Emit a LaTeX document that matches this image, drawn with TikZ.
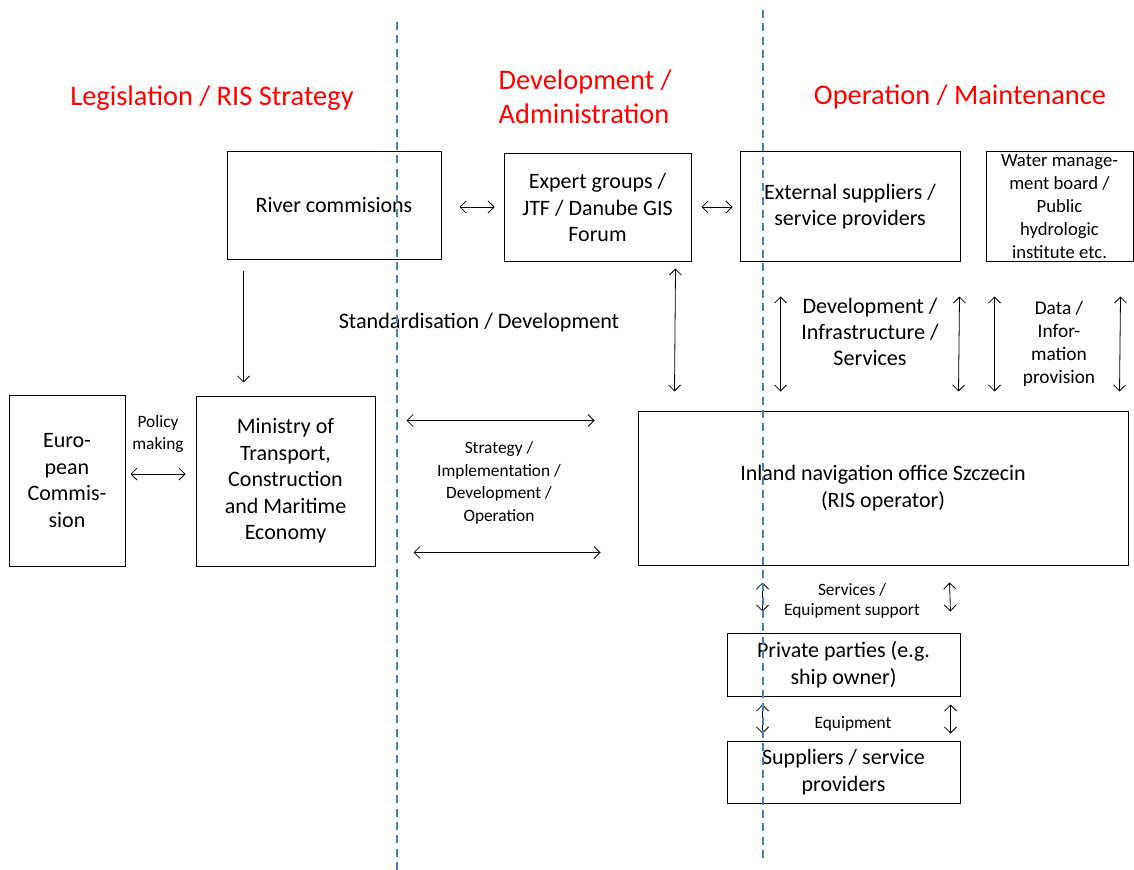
\documentclass[tikz,border=0pt]{standalone}
\usepackage{fontspec}
\setmainfont{Carlito}
\usetikzlibrary{arrows.meta,calc}
\definecolor{titlered}{RGB}{255,0,0}
\definecolor{laneblue}{RGB}{74,126,187}
\tikzset{
  box/.style 2 args={draw, line width=0.75pt, align=center, inner sep=1pt,
    minimum width=#1*0.75pt, minimum height=#2*0.75pt,
    font=\fontsize{16.5}{19.9}\selectfont},
  link/.style={{Straight Barb[length=4.5pt,width=9pt]}-{Straight Barb[length=4.5pt,width=9pt]}, line width=0.6pt},
  onelink/.style={-{Straight Barb[length=4.5pt,width=9pt]}, line width=0.6pt},
  title/.style={text=titlered, align=center, font=\fontsize{21.3}{25.5}\selectfont},
  biglabel/.style={align=center, font=\fontsize{16.6}{19.5}\selectfont},
  midlabel/.style={align=center, font=\fontsize{13}{17}\selectfont},
  smalllabel/.style={align=center, font=\fontsize{13}{15}\selectfont},
  lane/.style={laneblue, line width=1.5pt, dash pattern=on 6pt off 4pt}
}
\begin{document}
\begin{tikzpicture}[x=0.75pt, y=-0.75pt]
  \useasboundingbox (0,0) rectangle (1134,870);
  % column titles
  \node[title] (titleleg) at (212,98) {Legislation / RIS Strategy};
  \node[title, align=left, anchor=west] (titledev) at (494,97) {Development /\\Administration};
  \node[title] (titleop) at (960,97) {Operation / Maintenance};
  % top row
  \node[box={214}{107}] (river) at (334,205.5) {River commisions};
  \node[box={187}{107}] (expert) at (597.5,207.5) {Expert groups /\\JTF / Danube GIS\\Forum};
  \node[box={220}{109}] (ext) at (850,206.5) {External suppliers /\\service providers};
  \node[box={147}{109}, font=\fontsize{14}{17.2}\selectfont] (water) at (1059.5,206.5)
    {Water manage-\\ment board /\\Public\\hydrologic\\institute etc.};
  % middle row
  \node[box={116}{171}] (euro) at (67,480.5) {Euro-\\pean\\Commis-\\sion};
  \node[box={179}{170}] (ministry) at (285.5,481) {Ministry of\\Transport,\\Construction\\and Maritime\\Economy};
  \node[box={490}{154}] (inland) at (883,488) {Inland navigation office Szczecin\\(RIS operator)};
  % bottom column
  \node[box={233}{63}] (private) at (843.5,664.5) {Private parties (e.g.\\ship owner)};
  \node[box={233}{62}] (suppliers) at (843.5,772) {Suppliers / service\\providers};
  % labels
  \node[biglabel] (stdlbl) at (479,323) {Standardisation / Development};
  \node[biglabel] (devlbl) at (870,332) {Development /\\Infrastructure /\\Services};
  \node[midlabel, font=\fontsize{14.5}{17.2}\selectfont] (datalbl) at (1059,344) {Data /\\Infor-\\mation\\provision};
  \node[midlabel] (policylbl) at (158,434) {Policy\\making};
  \node[midlabel] (stratlbl) at (499,483) {Strategy /\\Implementation /\\Development /\\Operation};
  \node[smalllabel] (servlbl) at (852,601) {Services /\\Equipment support};
  \node[smalllabel] (equiplbl) at (853,724) {Equipment};
  % connectors
  \draw[link] ($(river.east)+(18,1.5)$) -- ($(expert.west)+(-9,-0.5)$);
  \draw[link] ($(expert.east)+(10,-0.5)$) -- ($(ext.west)+(-7,0.5)$);
  \draw[onelink] ($(river.south west)+(17,11)$) -- ($(ministry.north west)+(48,-13)$);
  \draw[link] ($(expert.south east)+(-16,7)$) -- ($(inland.north west)+(37,-19)$);
  \draw[link] ($(ext.south west)+(41,35)$) -- ($(inland.north west)+(143,-19)$);
  \draw[link] ($(ext.south east)+(-1,35)$) -- ($(inland.north west)+(321,-19)$);
  \draw[link] ($(water.south west)+(9,35)$) -- ($(inland.north west)+(357,-19)$);
  \draw[link] ($(water.south east)+(-13,35)$) -- ($(inland.north west)+(482,-19)$);
  \draw[link] ($(euro.east)+(5,-6.5)$) -- ($(ministry.west)+(-10,-7)$);
  \draw[link] ($(ministry.north east)+(31,25)$) -- ($(inland.north west)+(-43,10)$);
  \draw[link] ($(ministry.south east)+(38,-14)$) -- ($(inland.south west)+(-37,-13)$);
  \draw[link] ($(inland.south west)+(125,17)$) -- ($(private.north west)+(36,-21)$);
  \draw[link] ($(inland.south west)+(312,17)$) -- ($(private.north east)+(-10,-21)$);
  \draw[link] ($(private.south west)+(36,8)$) -- ($(suppliers.north west)+(36,-7)$);
  \draw[link] ($(private.south east)+(-10,8)$) -- ($(suppliers.north east)+(-10,-7)$);
  % lane separators
  \draw[lane] (397,22) -- (397,870);
  \draw[lane] (763,10) -- (763,860);
\end{tikzpicture}
\end{document}
